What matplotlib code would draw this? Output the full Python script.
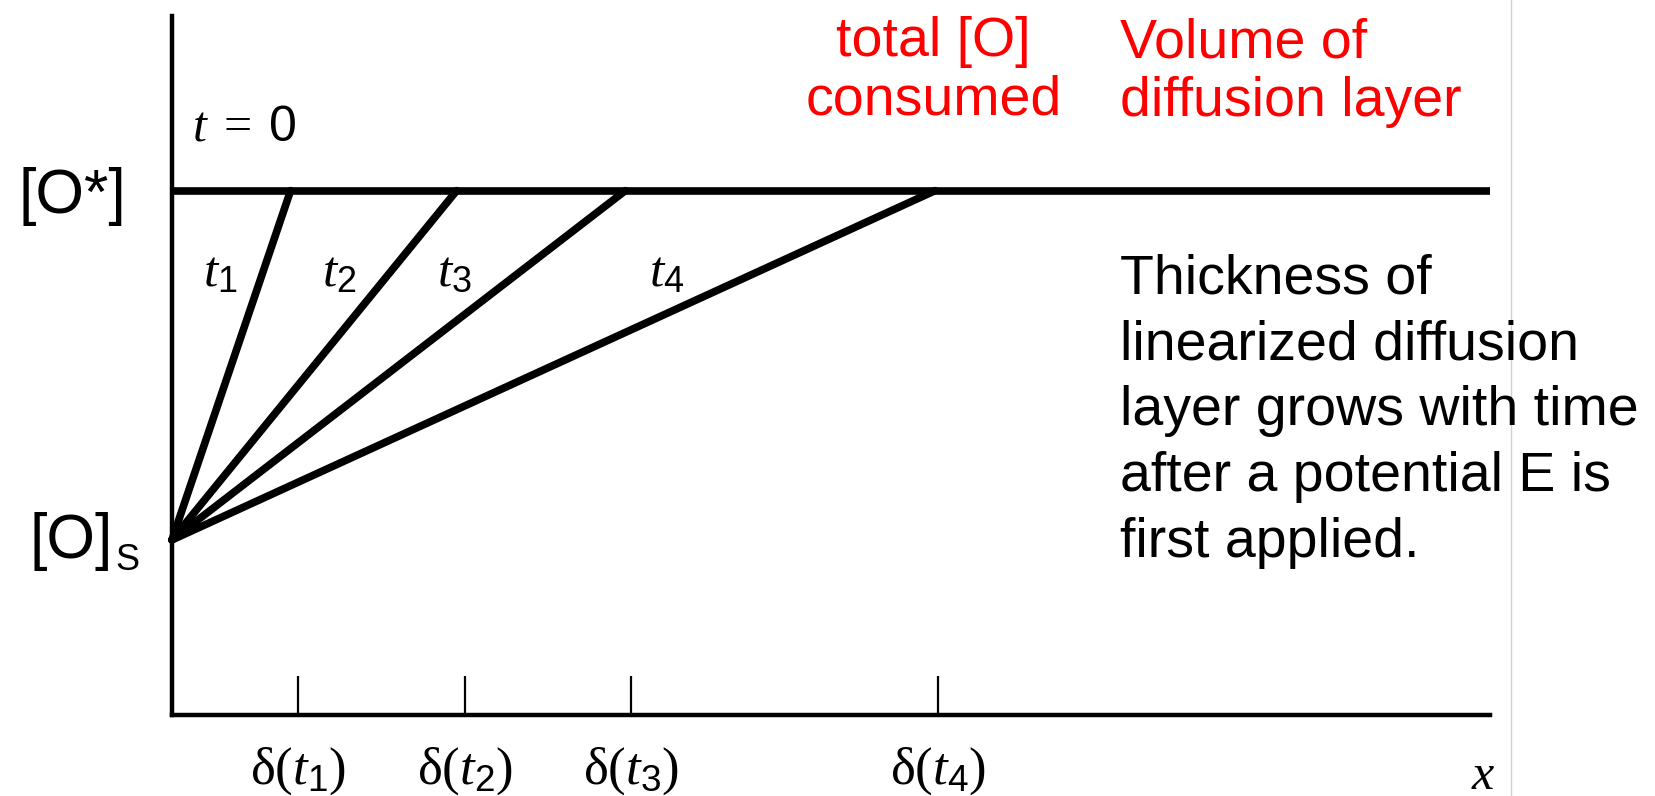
import matplotlib
matplotlib.use("Agg")
import matplotlib.pyplot as plt
from matplotlib.lines import Line2D

plt.rcParams["font.family"] = ["Liberation Sans", "DejaVu Sans"]
plt.rcParams["mathtext.fontset"] = "custom"
plt.rcParams["mathtext.rm"] = "Liberation Serif"
plt.rcParams["mathtext.it"] = "Liberation Serif:italic"
plt.rcParams["mathtext.sf"] = "Liberation Sans"

# concentration levels (arbitrary units)
c_bulk = 3.0
c_surface = 1.0

# distance where each linear profile reaches the bulk value
profile_ends = [0.90, 2.16, 3.44, 5.79]
profile_names = ["1", "2", "3", "4"]
# diffusion layer thickness marks on the x axis
delta_marks = [0.96, 2.22, 3.48, 5.81]
# where the t_n labels sit
t_label_x = [0.37, 1.27, 2.14, 3.75]

x_max = 10.0
y_max = 4.0

fig = plt.figure(figsize=(16.55, 7.96), dpi=100)
ax = fig.add_axes([0.1039, 0.1023, 0.7964, 0.8776])
ax.set_xlim(0, x_max)
ax.set_ylim(0, y_max)

for side in ["top", "right"]:
    ax.spines[side].set_visible(False)
for side in ["left", "bottom"]:
    ax.spines[side].set_linewidth(3.2)

# bulk concentration at t = 0
ax.plot([0, x_max], [c_bulk, c_bulk], color="black", lw=5.5,
        solid_capstyle="butt", clip_on=False)

# linearized profiles for growing times
for end in profile_ends:
    ax.plot([0, end], [c_surface, c_bulk], color="black", lw=5.5,
            solid_capstyle="round", clip_on=False)

for xl, n in zip(t_label_x, profile_names):
    ax.text(xl, c_bulk - 0.47, rf"$t_{{\mathsf{{{n}}}}}$", fontsize=37,
            ha="center", va="center")

ax.text(0.15, c_bulk + 0.36, r"$t\;=\;\mathsf{0}$", fontsize=36,
        ha="left", va="center")

ax.set_xticks(delta_marks,
              [rf"$\mathrm{{\delta}}(t_{{\mathsf{{{n}}}}})$" for n in profile_names])
ax.tick_params(axis="x", direction="in", length=28, width=1.6, pad=22,
               labelsize=38)
ax.set_yticks([])

ax.text(9.95, -0.35, r"$x$", fontsize=36, ha="center", va="center")

# concentration labels on the left
ax.text(-0.35, c_bulk - 0.128, "[O*]", fontsize=45, ha="right", va="baseline")
ax.text(-0.45, c_surface - 0.103, "[O]", fontsize=45, ha="right", va="baseline")
ax.text(-0.43, c_surface - 0.172, "S", fontsize=26, ha="left", va="baseline")

red = "#ff0000"
fig.text(0.564, 0.980, "total [O]\nconsumed", color=red, fontsize=40,
         ha="center", va="top", multialignment="center", linespacing=1.17)
fig.text(0.677, 0.978, "Volume of\ndiffusion layer", color=red, fontsize=40,
         ha="left", va="top", linespacing=1.17)
fig.text(0.677, 0.682,
         "Thickness of\nlinearized diffusion\nlayer grows with time\n"
         "after a potential E is\nfirst applied.",
         color="black", fontsize=40, ha="left", va="top", linespacing=1.35)

fig.add_artist(Line2D([1511 / 1655] * 2, [0, 1], transform=fig.transFigure,
                      color="#d0d0d0", lw=1))

fig.savefig("out.png", dpi=100)
